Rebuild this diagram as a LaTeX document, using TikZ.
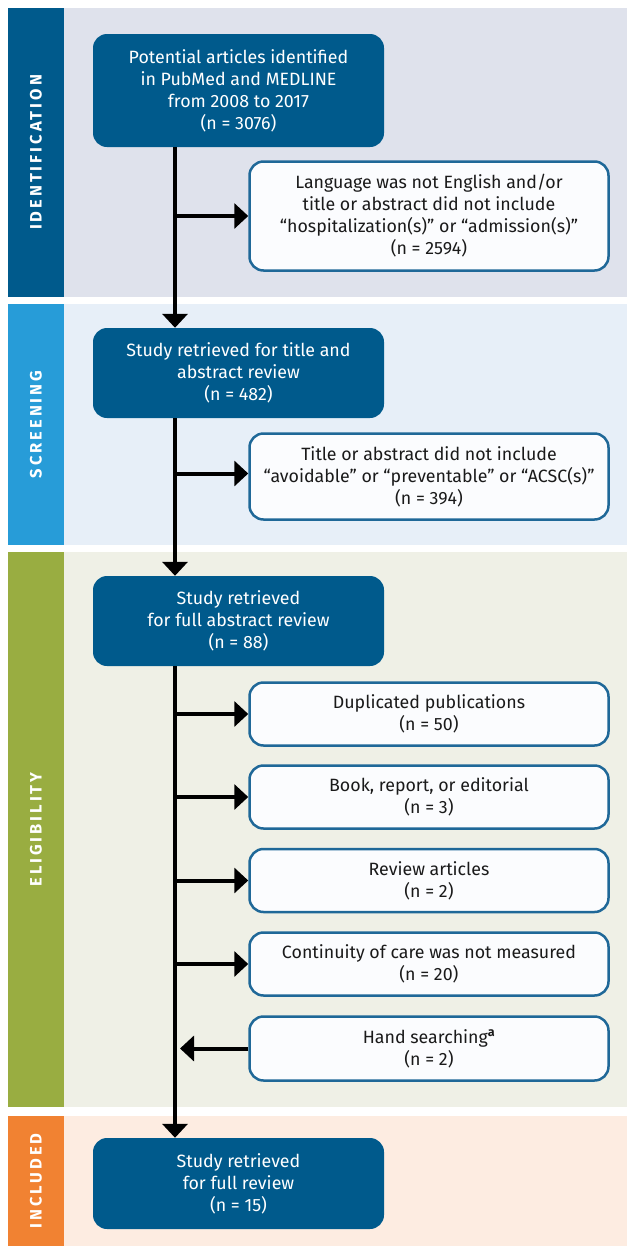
\documentclass[tikz,border=0pt]{standalone}
\usepackage{fontspec}
\setmainfont{Fira Sans}
\newfontfamily\labelfont[LetterSpace=18]{Fira Sans}
\usetikzlibrary{arrows.meta,calc}
\definecolor{dblue}{HTML}{005A8C}
\definecolor{idband}{HTML}{DFE2EC}
\definecolor{scrstrip}{HTML}{279CD8}
\definecolor{scrband}{HTML}{E7EFF8}
\definecolor{elstrip}{HTML}{99AD41}
\definecolor{elband}{HTML}{EFF0E6}
\definecolor{incstrip}{HTML}{F18232}
\definecolor{incband}{HTML}{FDECE1}
\definecolor{wborder}{HTML}{1F6898}
\definecolor{wfill}{HTML}{FBFCFE}
\definecolor{txt}{HTML}{1A1A1A}
\begin{document}
\begin{tikzpicture}[x=1pt,y=-1pt,
  boxfont/.style={font={\fontsize{17.8pt}{22pt}\selectfont}},
  darkbox/.style={boxfont, fill=dblue, text=white, rounded corners=14pt, align=center, inner sep=0pt, minimum width=291pt},
  whitebox/.style={boxfont, fill=wfill, draw=wborder, line width=2.5pt, text=txt, rounded corners=14pt, align=center, inner sep=0pt, minimum width=359pt},
  sidelabel/.style={rotate=90, text=white, font={\labelfont\bfseries\fontsize{16.5pt}{18pt}\selectfont}},
  arr/.style={line width=4pt, draw=black, -{Triangle[width=25pt,length=14pt]}}
]
\useasboundingbox (0,0) rectangle (627,1248);
\fill[white] (0,0) rectangle (627,1248);
% bands
\fill[idband] (64,8) rectangle (627,297);
\fill[dblue] (8,8) rectangle (64,297);
\fill[scrband] (64,304) rectangle (627,545);
\fill[scrstrip] (8,304) rectangle (64,545);
\fill[elband] (64,552) rectangle (627,1107);
\fill[elstrip] (8,552) rectangle (64,1107);
\fill[incband] (64,1116) rectangle (627,1246);
\fill[incstrip] (8,1116) rectangle (64,1246);
% side labels
\node[sidelabel] (lid) at (36,152.5) {IDENTIFICATION};
\node[sidelabel] (lscr) at (36,424.5) {SCREENING};
\node[sidelabel] (lel) at (36,829.5) {ELIGIBILITY};
\node[sidelabel] (linc) at (36,1181) {INCLUDED};
% main boxes
\node[darkbox, minimum height=113pt] (b1) at (238.5,90.5) {Potential articles identified\\in PubMed and MEDLINE\\from 2008 to 2017\\(n = 3076)};
\node[darkbox, minimum height=90pt] (b2) at (238.5,373) {Study retrieved for title and\\abstract review\\(n = 482)};
\node[darkbox, minimum height=90pt] (b3) at (238.5,621) {Study retrieved\\for full abstract review\\(n = 88)};
\node[darkbox, minimum height=91pt] (b4) at (238.5,1183.5) {Study retrieved\\for full review\\(n = 15)};
% exclusion boxes
\node[whitebox, minimum height=109pt] (e1) at (429,216) {Language was not English and/or\\title or abstract did not include\\“hospitalization(s)” or “admission(s)”\\(n = 2594)};
\node[whitebox, minimum height=86pt] (e2) at (429,476.5) {Title or abstract did not include\\“avoidable” or “preventable” or “ACSC(s)”\\(n = 394)};
\node[whitebox, minimum height=63pt] (e3) at (429,714) {Duplicated publications\\(n = 50)};
\node[whitebox, minimum height=63pt] (e4) at (429,797) {Book, report, or editorial\\(n = 3)};
\node[whitebox, minimum height=63pt] (e5) at (429,880.5) {Review articles\\(n = 2)};
\node[whitebox, minimum height=63pt] (e6) at (429,964) {Continuity of care was not measured\\(n = 20)};
\node[whitebox, minimum height=64pt] (e7) at (429,1048.5) {Hand searching\textsuperscript{\textbf{a}}\\(n = 2)};
% connectors
\coordinate (main) at (175,0);
\draw[arr] (b1.south -| main) -- (b2.north -| main);
\draw[arr] (b2.south -| main) -- (b3.north -| main);
\draw[arr] (b3.south -| main) -- (b4.north -| main);
\draw[arr] (e1.west -| main) -- (e1.west);
\draw[arr] ($(e2.west -| main)+(0,-3)$) -- ($(e2.west)+(0,-3)$);
\draw[arr] (e3.west -| main) -- (e3.west);
\draw[arr] (e4.west -| main) -- (e4.west);
\draw[arr] (e5.west -| main) -- (e5.west);
\draw[arr] (e6.west -| main) -- (e6.west);
\draw[arr] (e7.west) -- ($(e7.west -| main)+(5,0)$);
\end{tikzpicture}
\end{document}
